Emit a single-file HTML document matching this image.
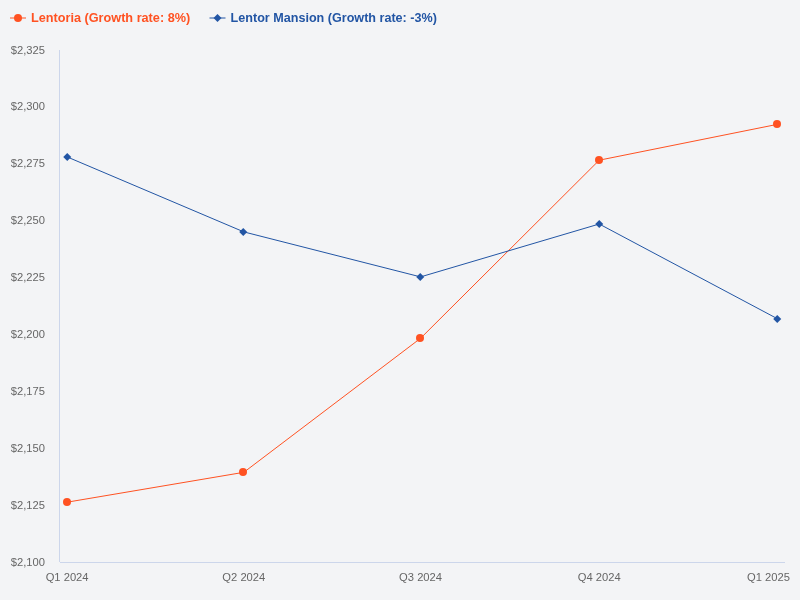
<!DOCTYPE html>
<html lang="en">
<head>
<meta charset="utf-8">
<title>Lentoria vs Lentor Mansion</title>
<style>
  html, body { margin: 0; padding: 0; width: 800px; height: 600px; overflow: hidden; background: #f3f4f6; }
  svg { display: block; font-family: "Liberation Sans", sans-serif; will-change: transform; }
  .ax { font-size: 11.2px; fill: #666666; }
  .lg { font-size: 12.3px; font-weight: bold; }
</style>
</head>
<body>
<svg width="800" height="600" viewBox="0 0 800 600">
  <rect x="0" y="0" width="800" height="600" fill="#f3f4f6"/>

  <!-- axis lines -->
  <path d="M 59.5 50 L 59.5 562" stroke="#ccd6eb" stroke-width="1" fill="none"/>
  <path d="M 60 562.5 L 785 562.5" stroke="#ccd6eb" stroke-width="1" fill="none"/>

  <!-- series: Lentoria -->
  <g>
    <path d="M 67.11 502.2 L 243.83 472.3 L 420.56 338.3 L 599.22 160.2 L 777.89 124.25" fill="none" stroke="#ff5222" stroke-width="1" stroke-linejoin="round" stroke-linecap="round"/>
    <circle cx="67" cy="501.9" r="4" fill="#ff5222"/>
    <circle cx="243" cy="472" r="4" fill="#ff5222"/>
    <circle cx="420" cy="337.9" r="4" fill="#ff5222"/>
    <circle cx="599" cy="159.9" r="4" fill="#ff5222"/>
    <circle cx="777" cy="123.9" r="4" fill="#ff5222"/>
  </g>

  <!-- series: Lentor Mansion -->
  <g>
    <path d="M 67.11 156.9 L 243.83 231.9 L 420.56 276.9 L 599.22 224 L 777.89 319" fill="none" stroke="#2255a4" stroke-width="1" stroke-linejoin="round" stroke-linecap="round"/>
    <path d="M 67.25 152.9 L 71.25 156.9 L 67.25 160.9 L 63.25 156.9 Z" fill="#2255a4"/>
    <path d="M 243.25 227.9 L 247.25 231.9 L 243.25 235.9 L 239.25 231.9 Z" fill="#2255a4"/>
    <path d="M 420.25 272.9 L 424.25 276.9 L 420.25 280.9 L 416.25 276.9 Z" fill="#2255a4"/>
    <path d="M 599.25 220.0 L 603.25 224.0 L 599.25 228.0 L 595.25 224.0 Z" fill="#2255a4"/>
    <path d="M 777.25 315.0 L 781.25 319.0 L 777.25 323.0 L 773.25 319.0 Z" fill="#2255a4"/>
  </g>

  <!-- legend -->
  <g>
    <path d="M 10 18 L 26 18" stroke="#ff5222" stroke-width="1" fill="none"/>
    <circle cx="18" cy="18" r="4" fill="#ff5222"/>
    <text class="lg" x="31" y="22" fill="#ff5222" textLength="159.2" lengthAdjust="spacingAndGlyphs">Lentoria (Growth rate: 8%)</text>
    <path d="M 209.5 18 L 225.5 18" stroke="#2255a4" stroke-width="1" fill="none"/>
    <path d="M 217.5 14 L 221.5 18 L 217.5 22 L 213.5 18 Z" fill="#2255a4"/>
    <text class="lg" x="230.6" y="22" fill="#2255a4" textLength="206.3" lengthAdjust="spacingAndGlyphs">Lentor Mansion (Growth rate: -3%)</text>
  </g>

  <!-- y axis labels -->
  <g class="ax" text-anchor="end">
    <text x="45" y="54">$2,325</text>
    <text x="45" y="110">$2,300</text>
    <text x="45" y="167">$2,275</text>
    <text x="45" y="224">$2,250</text>
    <text x="45" y="281">$2,225</text>
    <text x="45" y="338">$2,200</text>
    <text x="45" y="395">$2,175</text>
    <text x="45" y="452">$2,150</text>
    <text x="45" y="509">$2,125</text>
    <text x="45" y="566">$2,100</text>
  </g>

  <!-- x axis labels -->
  <g class="ax" text-anchor="middle">
    <text x="67.11" y="581">Q1 2024</text>
    <text x="243.83" y="581">Q2 2024</text>
    <text x="420.56" y="581">Q3 2024</text>
    <text x="599.22" y="581">Q4 2024</text>
    <text x="768.5" y="581">Q1 2025</text>
  </g>
</svg>
</body>
</html>
